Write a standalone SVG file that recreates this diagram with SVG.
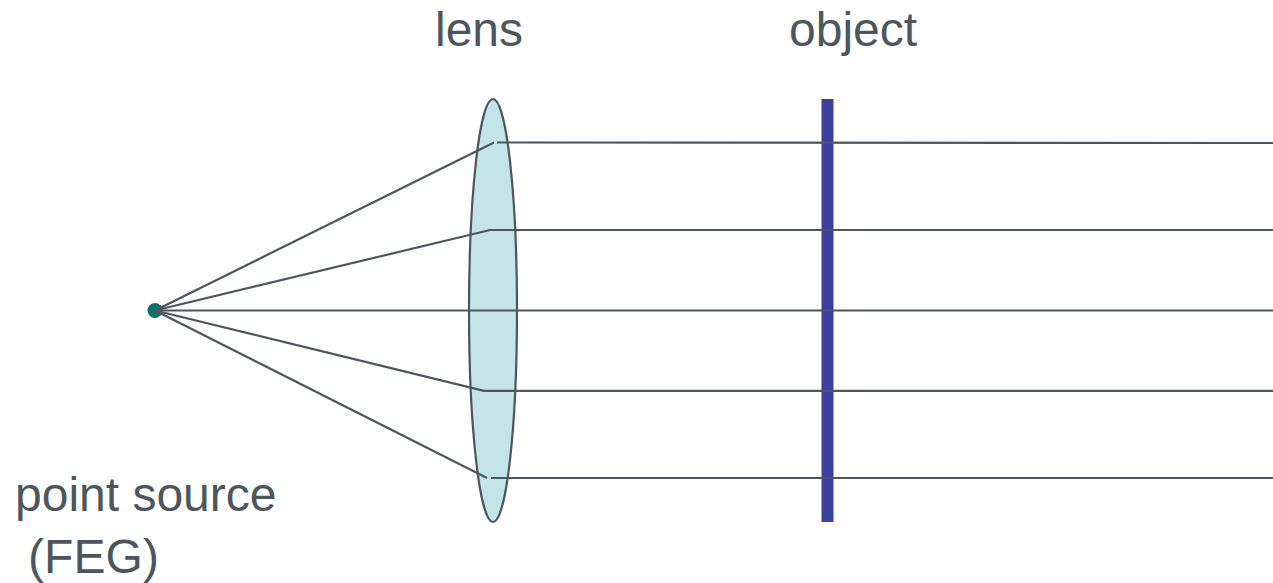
<svg xmlns="http://www.w3.org/2000/svg" width="1273" height="583" viewBox="0 0 1273 583">
<style>
.t{font-family:"Liberation Sans",Arial,sans-serif;font-size:48px;fill:#4d565c}
.r{fill:none;stroke:#4d565c;stroke-width:2.200}
</style>
<rect width="1273" height="583" fill="#fff"/>
<g id="lens"><ellipse cx="493" cy="310.500" rx="24" ry="211.500" fill="#c3e5e8" stroke="#4d565c" stroke-width="2.200"/></g>
<g id="object"><rect x="821.500" y="99" width="12" height="423" fill="#3b3f9e"/></g>
<g id="source"><circle cx="155" cy="310.500" r="7.500" fill="#0a7170"/></g>
<g id="connectors">
<path class="r" d="M155 310.500L494 142.500M497 142.500L1273 143"/>
<path class="r" d="M155 310.500L490 230H1273"/>
<path class="r" d="M155 310.500H1273"/>
<path class="r" d="M155 310.500L484 390.800H1273"/>
<path class="r" d="M155 310.500L487 478M491 478H1273"/>
</g>
<g id="labels">
<text class="t" x="435" y="46">lens</text>
<text class="t" x="789" y="46">object</text>
<text class="t" x="15" y="511">point source</text>
<text class="t" x="28" y="573" textLength="131">(FEG)</text>
</g>
</svg>
